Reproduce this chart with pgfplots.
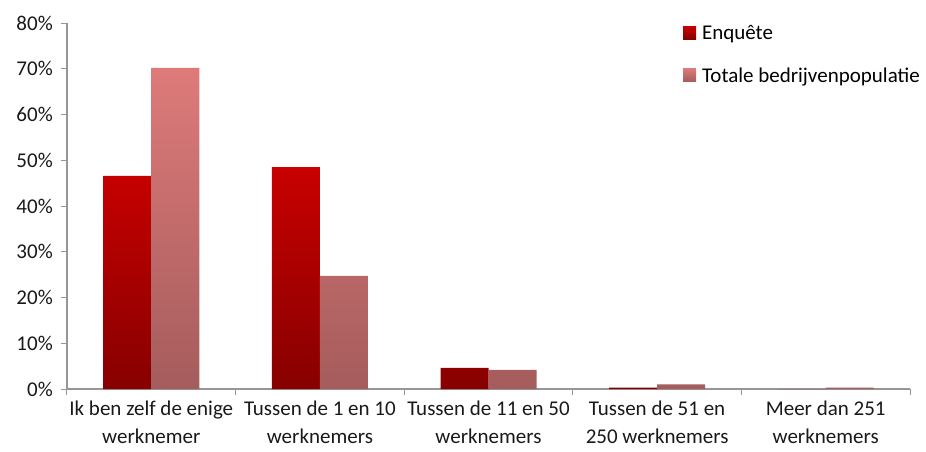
\documentclass[border=0pt]{standalone}
\usepackage{pgfplots}
\pgfplotsset{compat=1.18}
\usepackage{fontspec}
\setmainfont{Carlito}
\definecolor{eTop}{RGB}{200,0,0}
\definecolor{eBot}{RGB}{135,0,0}
\definecolor{tTop}{RGB}{222,122,122}
\definecolor{tBot}{RGB}{165,92,92}
\definecolor{axgray}{RGB}{150,150,150}
\begin{document}
\fontsize{21}{26}\selectfont
\begin{tikzpicture}
\path[use as bounding box] (-67pt,-63pt) rectangle (859pt,389pt);
\begin{axis}[
  scale only axis,
  width=843pt, height=366pt,
  at={(0,0)}, anchor=south west,
  xmin=-0.5, xmax=4.5,
  ymin=0, ymax=80,
  ytick={0,10,...,80},
  yticklabel={\pgfmathprintnumber{\tick}\%},
  /pgf/number format/assume math mode=true,
  xtick={0,1,2,3,4},
  xticklabels={{Ik ben zelf de enige\\werknemer},{Tussen de 1 en 10\\werknemers},{Tussen de 11 en 50\\werknemers},{Tussen de 51 en\\250 werknemers},{Meer dan 251\\werknemers}},
  xticklabel style={align=center, text depth=0pt, yshift=1pt},
  major x tick style={draw=none},
  minor xtick={-0.5,0.5,1.5,2.5,3.5,4.5},
  minor x tick style={draw=axgray, line width=1pt},
  minor tick length=6pt,
  major tick length=6pt,
  tick align=outside,
  ytick style={draw=axgray, line width=1pt},
  axis x line*=bottom, axis y line*=left,
  axis line style={draw=axgray, line width=1.2pt, -},
  ybar, bar width=48pt,
  tick label style={font=\fontsize{21}{28}\selectfont, text=black!90},
  yticklabel style={xshift=-1pt},
  legend style={draw=none, fill=none, at={(0.727,1.005)}, anchor=north west,
    font=\fontsize{21}{26}\selectfont, row sep=21pt, legend cell align=left,
    /tikz/every odd column/.append style={column sep=4pt}},
  legend image code/.code={\path[#1] (0pt,-5pt) rectangle (13pt,8pt);},
  clip=false,
]
\addplot[draw=none, bar shift=-24pt, top color=eTop, bottom color=eBot] coordinates {(0,46.6) (1,48.5) (2,4.6) (3,0.3) (4,0)};
\addlegendentry{Enquête}
\addplot[draw=none, bar shift=24pt, top color=tTop, bottom color=tBot] coordinates {(0,70.2) (1,24.7) (2,4.2) (3,1.0) (4,0.3)};
\addlegendentry{Totale bedrijvenpopulatie}
\end{axis}
\end{tikzpicture}
\end{document}
